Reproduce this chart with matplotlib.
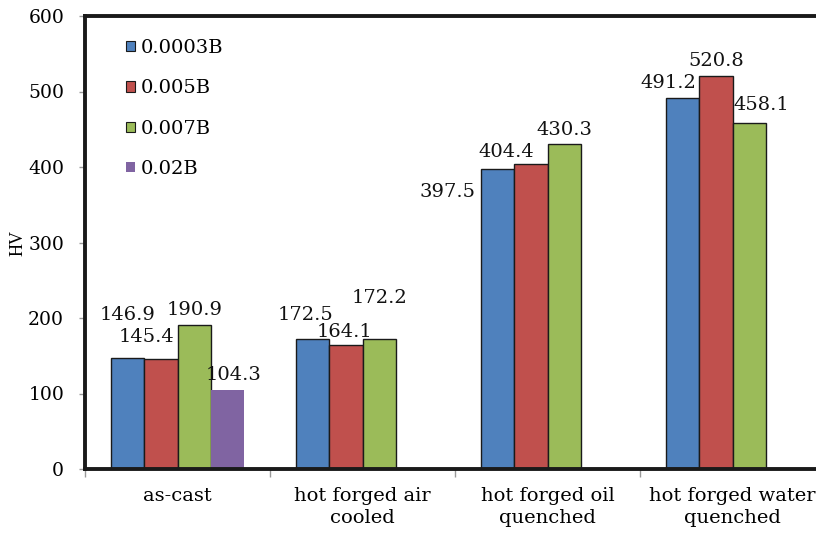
import matplotlib
matplotlib.use("Agg")
import matplotlib.pyplot as plt
from matplotlib.patches import Patch
import numpy as np

# Hardness (HV) by boron content and processing route
groups = ["as-cast", "hot forged air\ncooled", "hot forged oil\nquenched",
          "hot forged water\nquenched"]
series = ["0.0003B", "0.005B", "0.007B", "0.02B"]
hv_0003 = [146.9, 172.5, 397.5, 491.2]
hv_005 = [145.4, 164.1, 404.4, 520.8]
hv_007 = [190.9, 172.2, 430.3, 458.1]
hv_02 = [104.3, np.nan, np.nan, np.nan]

colors = ["#4F81BD", "#C0504D", "#9BBB59", "#8064A2"]
edges = ["#1a1a1a", "#1a1a1a", "#1a1a1a", "none"]

# value label offsets (pixels) from the top centre of each bar
label_offsets = [
    [(0, 43), (-7, 24), (-50, -23), (-14, 15)],
    [(-14, 22), (-1.5, 13), (-24, 12), (0, 15)],
    [(0, 15), (0, 41), (0, 14), (12, 18)],
    [(6, 15), None, None, None],
]

font = "DejaVu Serif"
fs = 14

fig = plt.figure(figsize=(8.16, 5.33), dpi=100)
ax = fig.add_axes([85 / 816, 64 / 533, 740 / 816, 453 / 533])

x = np.arange(len(groups))
width = 0.181
values = [hv_0003, hv_005, hv_007, hv_02]
px_to_pt = 0.72

for i, vals in enumerate(values):
    pos = x + (i - 1.5) * width
    ax.bar(pos, vals, width, color=colors[i], edgecolor=edges[i],
           linewidth=1.0, zorder=2)
    for j, v in enumerate(vals):
        if np.isnan(v):
            continue
        dx, dy = label_offsets[i][j]
        ax.annotate(f"{v:.1f}", (pos[j], v),
                    xytext=(dx * px_to_pt, dy * px_to_pt),
                    textcoords="offset points", ha="center", va="center",
                    fontsize=fs, family=font, color="#111111")

ax.set_xlim(-0.5, len(groups) - 0.5)
ax.set_ylim(0, 600)
ax.set_yticks(np.arange(0, 601, 100))
ax.tick_params(axis="y", length=4, width=1, color="#999999", pad=11,
               labelsize=fs - 0.5)
for lab in ax.get_yticklabels():
    lab.set_family(font)

# category names centred, tick marks between groups
ax.set_xticks(x)
ax.set_xticklabels(groups, family=font, fontsize=fs, linespacing=1.3,
                   va="top")
ax.tick_params(axis="x", which="major", length=0, pad=13)
ax.set_xticks(np.arange(-0.5, len(groups), 1), minor=True)
ax.tick_params(axis="x", which="minor", length=6, width=1, color="#999999")

for spine in ax.spines.values():
    spine.set_linewidth(2.8)
    spine.set_color("#1a1a1a")

ax.set_ylabel("HV", family="Liberation Serif", fontsize=13, labelpad=1)

handles = [Patch(facecolor=colors[i], edgecolor=edges[i], linewidth=0.8)
           for i in range(len(series))]
ax.legend(handles, series, loc="upper left",
          bbox_to_anchor=(126 / 816, 1 - 39 / 533),
          bbox_transform=fig.transFigure, frameon=False,
          prop={"family": font, "size": fs}, handlelength=0.45,
          handleheight=0.45, handletextpad=0.3, labelspacing=1.15,
          borderpad=0, borderaxespad=0)

fig.savefig("out.png", dpi=100, facecolor="white")
